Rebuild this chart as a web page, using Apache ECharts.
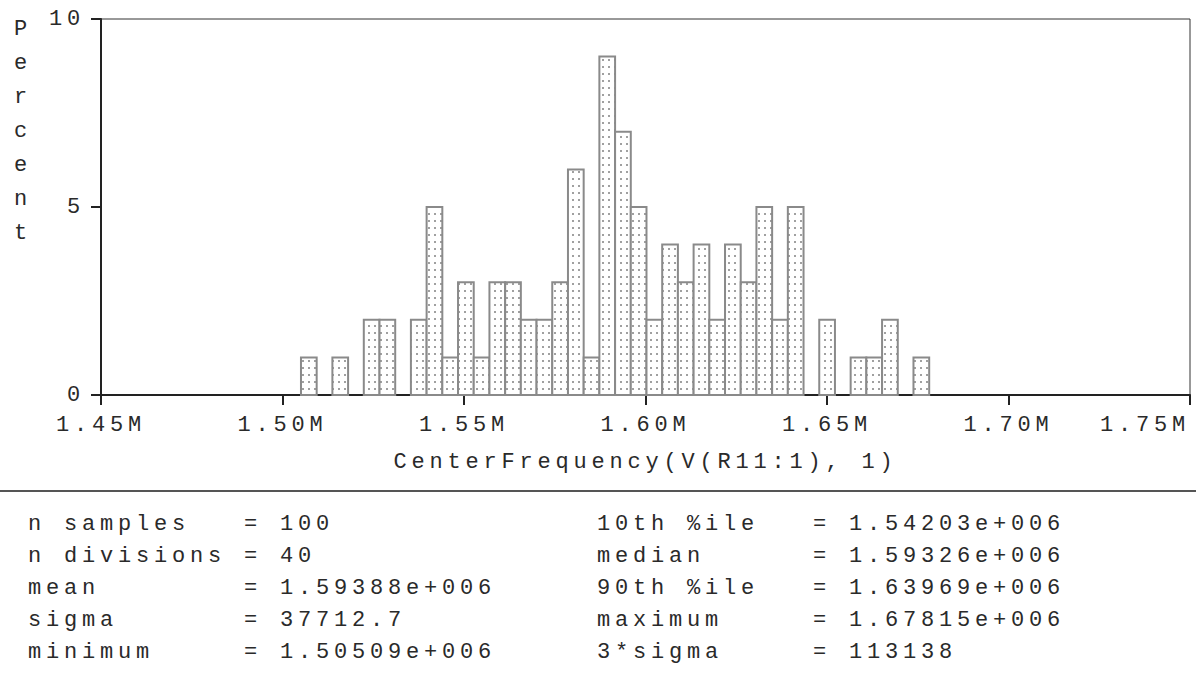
<!DOCTYPE html>
<html>
<head>
<meta charset="utf-8">
<script src="https://cdn.jsdelivr.net/npm/echarts@6/dist/echarts.min.js"></script>
<style>
  html, body { margin: 0; padding: 0; background: #fff; }
  #chart { width: 1196px; height: 686px; }
  /* wide, evenly spaced monospace lettering */
  #chart svg text { letter-spacing: 4.8px; white-space: pre; }
</style>
</head>
<body>
<div id="chart"></div>
<script>
// Monte Carlo histogram of CenterFrequency(V(R11:1), 1): 100 runs sorted into 40 bins
var binCounts = [1, 0, 1, 0, 2, 2, 0, 2, 5, 1,
                 3, 1, 3, 3, 2, 2, 3, 6, 1, 9,
                 7, 5, 2, 4, 3, 4, 2, 4, 3, 5,
                 2, 5, 0, 2, 0, 1, 1, 2, 0, 1];
var nSamples = 100;
var nDivisions = 40;
var sampleMin = 1.50509e6;
var sampleMax = 1.67815e6;

var xAxisMin = 1.45e6;
var xAxisMax = 1.75e6;
var xAxisStep = 0.05e6;
var yTicks = [0, 5, 10];

var statNamesLeft = ['n samples', 'n divisions', 'mean', 'sigma', 'minimum'];
var statValuesLeft = ['100', '40', '1.59388e+006', '37712.7', '1.50509e+006'];
var statNamesRight = ['10th %ile', 'median', '90th %ile', 'maximum', '3*sigma'];
var statValuesRight = ['1.54203e+006', '1.59326e+006', '1.63969e+006', '1.67815e+006', '113138'];

var FONT = '"Liberation Mono", "DejaVu Sans Mono", monospace';
var FONT_SIZE = 22;
var TEXT_COLOR = '#2a2a2a';

// bins: [left edge, right edge, percent of samples]
var binWidth = (sampleMax - sampleMin) / nDivisions;
var bins = [];
binCounts.forEach(function (c, i) {
  if (c > 0) {
    bins.push([sampleMin + i * binWidth, sampleMin + (i + 1) * binWidth, c / nSamples * 100]);
  }
});

// dotted fill tile for the histogram bars
function dotTile() {
  var cv = document.createElement('canvas');
  cv.width = 6; cv.height = 7;
  var ctx = cv.getContext('2d');
  ctx.fillStyle = '#fff';
  ctx.fillRect(0, 0, 6, 7);
  ctx.fillStyle = '#a0a0a0';
  ctx.fillRect(2, 3, 2, 2);
  return cv.toDataURL();
}
var barFill = { image: dotTile(), repeat: 'repeat' };

function pad(s, n) { while (s.length < n) { s += ' '; } return s; }

var graphics = [];
// vertical axis title, one letter per row
'Percent'.split('').forEach(function (ch, i) {
  graphics.push({
    type: 'text', x: 14, y: 29 + i * 34,
    style: { text: ch, fontFamily: FONT, fontSize: FONT_SIZE, fill: TEXT_COLOR, verticalAlign: 'middle' }
  });
});
// divider between the plot and the statistics block
graphics.push({
  type: 'line', shape: { x1: 0, y1: 491, x2: 1196, y2: 491 },
  style: { stroke: '#555', lineWidth: 2 }
});
function statRows(names, values, x) {
  names.forEach(function (nm, i) {
    graphics.push({
      type: 'text', x: x, y: 524 + i * 32,
      style: { text: pad(nm, 12) + '= ' + values[i], fontFamily: FONT, fontSize: FONT_SIZE, fill: TEXT_COLOR, verticalAlign: 'middle' }
    });
  });
}
statRows(statNamesLeft, statValuesLeft, 28);
statRows(statNamesRight, statValuesRight, 597);

var chart = echarts.init(document.getElementById('chart'), null, { renderer: 'svg' });
chart.setOption({
  animation: false,
  backgroundColor: '#fff',
  grid: {
    left: 101, right: 6, top: 19, bottom: 291,
    outerBoundsMode: 'none', containLabel: false,
    show: true, borderColor: '#333', borderWidth: 1, backgroundColor: 'transparent'
  },
  xAxis: {
    type: 'value', min: xAxisMin, max: xAxisMax, interval: xAxisStep,
    name: 'CenterFrequency(V(R11:1), 1)', nameLocation: 'middle', nameGap: 56,
    nameTextStyle: { fontFamily: FONT, fontSize: FONT_SIZE, color: TEXT_COLOR },
    axisLine: { lineStyle: { color: '#222', width: 2 } },
    axisTick: { length: 10, lineStyle: { color: '#222', width: 2 } },
    axisLabel: {
      margin: 19, fontFamily: FONT, fontSize: FONT_SIZE, color: TEXT_COLOR,
      alignMinLabel: 'center', alignMaxLabel: 'right', hideOverlap: false,
      formatter: function (v) { return (v / 1e6).toFixed(2) + 'M'; }
    },
    splitLine: { show: false }
  },
  yAxis: {
    type: 'value', min: yTicks[0], max: yTicks[yTicks.length - 1], interval: yTicks[1] - yTicks[0],
    axisLine: { show: true, lineStyle: { color: '#222', width: 2 } },
    axisTick: { show: true, length: 10, lineStyle: { color: '#222', width: 2 } },
    axisLabel: { margin: 16, fontFamily: FONT, fontSize: FONT_SIZE, color: TEXT_COLOR },
    splitLine: { show: false }
  },
  graphic: graphics,
  series: [{
    type: 'custom',
    data: bins,
    encode: { x: [0, 1], y: 2 },
    renderItem: function (params, api) {
      var top = api.coord([api.value(0), api.value(2)]);
      var bottom = api.coord([api.value(1), 0]);
      return {
        type: 'rect',
        shape: { x: top[0], y: top[1], width: bottom[0] - top[0], height: bottom[1] - top[1] },
        style: { fill: barFill, stroke: '#8a8a8a', lineWidth: 2 }
      };
    }
  }]
});
</script>
</body>
</html>
